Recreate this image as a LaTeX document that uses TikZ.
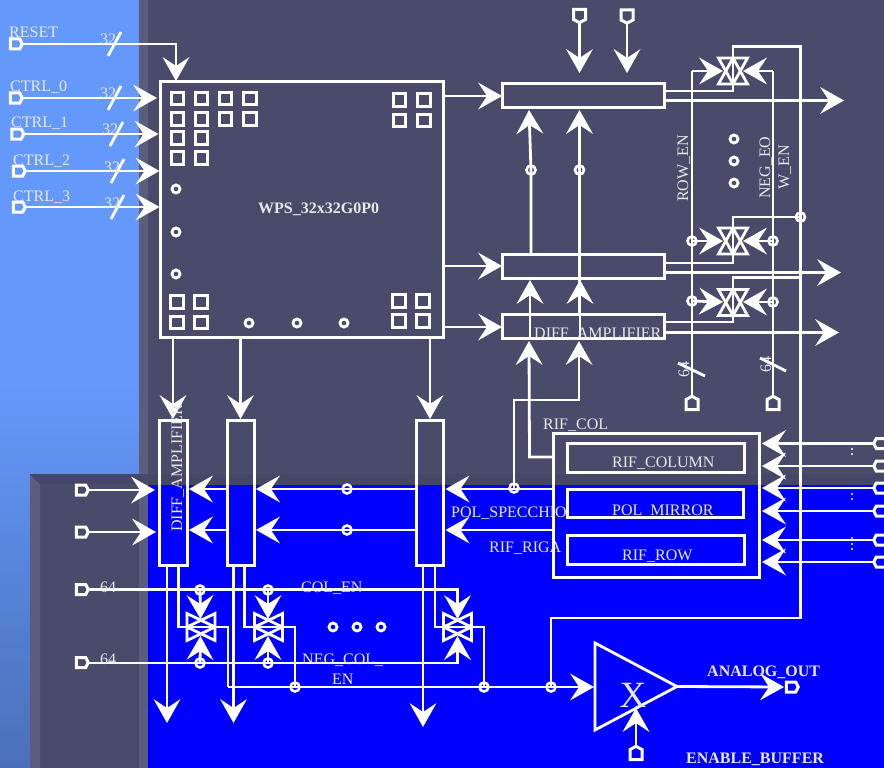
\documentclass[tikz,border=0pt]{standalone}
\usepackage{fontspec}
\setmainfont{Liberation Serif}
\usetikzlibrary{arrows.meta,shapes.symbols,shapes.geometric}
\definecolor{panel}{HTML}{4A4A6A}
\definecolor{bevel}{HTML}{5C5C7C}
\definecolor{bevelTop}{HTML}{464666}
\definecolor{lblue}{HTML}{6498FB}
\definecolor{mblue}{HTML}{5A8AE4}
\definecolor{dblue}{HTML}{4A70B8}
\definecolor{lbl}{HTML}{E8E8E8}
\tikzset{
  wire/.style={draw=white,line width=2.8pt,line join=miter},
  arr/.style={wire,-{Stealth[length=24pt,width=27pt,inset=9pt,line width=0pt,fill=white]}},
  boxn/.style={draw=white,line width=3pt,rectangle,inner sep=0pt,outer sep=0pt},
  sq/.style={draw=white,line width=3pt,rectangle,minimum size=12.5pt,inner sep=0pt},
  ring/.style={draw=white,line width=2.8pt,circle,minimum size=8pt,inner sep=0pt},
  jn/.style={draw=white,line width=2.6pt,circle,minimum size=9pt,inner sep=0pt},
  pinn/.style={draw=white,line width=3pt,signal,signal pointer angle=125,signal from=nowhere,
     minimum width=12pt,minimum height=10pt,inner sep=0pt,outer sep=0pt},
  txt/.style={text=lbl,inner sep=0pt,anchor=base west,font=\fontsize{16}{16}\selectfont},
  btxt/.style={txt,font=\fontsize{16}{16}\selectfont\bfseries},
  slash/.style={wire},
  sw/.style={draw=white,line width=2.8pt,line join=miter},
}
\newcommand{\switchH}[3]{% Star of David: triangles up and down
  \draw[sw] (#2-14.5,#3-13) -- (#2+14.5,#3-13) -- (#2,#3+13) -- cycle;
  \draw[sw] (#2-14.5,#3+13) -- (#2+14.5,#3+13) -- (#2,#3-13) -- cycle;
  \coordinate (#1) at (#2,#3);}
\newcommand{\switchV}[3]{% triangles pointing left and right
  \draw[sw] (#2-14,#3-13.5) -- (#2-14,#3+13.5) -- (#2+14,#3) -- cycle;
  \draw[sw] (#2+14,#3-13.5) -- (#2+14,#3+13.5) -- (#2-14,#3) -- cycle;
  \coordinate (#1) at (#2,#3);}
\begin{document}
\begin{tikzpicture}[x=1pt,y=-1pt]
\useasboundingbox (0,0) rectangle (884,768);
% ---- background
\shade[top color=lblue,bottom color=dblue,middle color=lblue] (0,0) rectangle (140,768);
\fill[panel] (139,0) rectangle (884,485);
\fill[bevel] (139,0) rectangle (148,485);
\fill[panel] (30,474) rectangle (148,768);
\fill[bevel] (30,474) -- (40,484) -- (40,768) -- (30,768) -- cycle;
\fill[bevelTop] (30,474) -- (139,474) -- (148,484) -- (40,484) -- cycle;
\fill[bevelTop] (148,474) rectangle (884,485);
\fill[bevel] (139,484) rectangle (148,768);
\fill[blue] (148,485) rectangle (884,768);

% ---- main boxes
\node[boxn,minimum width=283.3pt,minimum height=255.6pt] (wps) at (301.7,209.5) {};
\node[boxn,minimum width=161.5pt,minimum height=24.5pt] (boxA) at (583.7,95.5) {};
\node[boxn,minimum width=161.5pt,minimum height=24pt] (boxB) at (583.7,266) {};
\node[boxn,minimum width=161.5pt,minimum height=24.5pt] (boxC) at (583.7,326.5) {};
\node[boxn,minimum width=28pt,minimum height=145.5pt] (col1) at (173.7,493) {};
\node[boxn,minimum width=27.5pt,minimum height=145.5pt] (col2) at (241,493) {};
\node[boxn,minimum width=27.5pt,minimum height=145.5pt] (col3) at (430,493) {};
\node[boxn,minimum width=206.5pt,minimum height=144.5pt] (rif) at (656.3,505.5) {};
\node[boxn,minimum width=177.5pt,minimum height=29.5pt] (rifc) at (655.8,458) {};
\node[boxn,minimum width=176.5pt,minimum height=28.5pt] (rifm) at (655.3,503.5) {};
\node[boxn,minimum width=177.5pt,minimum height=29.5pt] (rifr) at (655.8,550) {};

% ---- small squares in the array
\foreach \n/\x/\y in {a/177.5/98.5,b/201.5/98.5,c/225.5/98.5,d/250/98.5,
  e/177.5/119,f/201.5/119,g/225.5/119,h/250/119,
  i/177.5/138,j/201.5/138,k/177.5/158,l/201.5/158,
  m/399.5/100,n/424/100,o/399.5/120.5,p/424/120.5,
  q/177/302,r/201/302,s/177/322.5,t/201/322.5,
  u/399/301,v/423/301,w/399/321,x/423/321}
  \node[sq] (sq\n) at (\x,\y) {};
\foreach \n/\x/\y in {a/176/189,b/176/232,c/176/274,d/249/323,e/297/323,f/344/323,
  g/734/139,h/734/161,i/734/183,j/333/627,k/357/627,l/381/627}
  \node[ring] (dot\n) at (\x,\y) {};

% ---- switches
\switchH{swA}{733}{71}
\switchH{swB}{733}{241}
\switchH{swC}{733}{302.5}
\switchV{swD}{201}{627}
\switchV{swE}{268.5}{627}
\switchV{swF}{457.5}{627}

% ---- pins
\node[pinn,signal to=east] (pReset) at (15,44) {};
\node[pinn,signal to=east] (pC0) at (15,98) {};
\node[pinn,signal to=east] (pC1) at (16.5,134) {};
\node[pinn,signal to=east] (pC2) at (18,171) {};
\node[pinn,signal to=east] (pC3) at (18,207) {};
\node[pinn,signal to=south] (pT1) at (579.5,14.5) {};
\node[pinn,signal to=south] (pT2) at (627,15) {};
\node[pinn,signal to=north] (pB1) at (692,404.5) {};
\node[pinn,signal to=north] (pB2) at (773,404.5) {};
\node[pinn,signal to=east] (pL1) at (81,490) {};
\node[pinn,signal to=east] (pL2) at (81,532) {};
\node[pinn,signal to=east] (pL3) at (81,589.5) {};
\node[pinn,signal to=east] (pL4) at (81,662.5) {};
\foreach \n/\y in {1/443.5,2/466,3/488,4/511,5/540,6/562}
  \node[pinn,signal to=west] (pR\n) at (881,\y) {};
\node[pinn,signal to=east] (pOut) at (791,687) {};
\node[pinn,signal to=north] (pEn) at (636,754.5) {};

% ---- amplifier
\node[draw=white,line width=2.8pt,isosceles triangle,isosceles triangle stretches,
  shape border rotate=0,minimum width=87pt,minimum height=82pt,
  inner sep=0pt,outer sep=0pt,anchor=lower side] (amp) at (595,686.5) {};

% ---- junctions
\foreach \n/\x/\y in {j1/531/170,j2/579.5/170,j3/514/488,j4/347/489,j5/347/530,
  j6/692/241,j7/773/241,j8/692/301,j9/773/302,j10/800.5/217,
  j11/200/590,j12/268/590,j13/200/663,j14/268/663,
  j15/295/687,j16/484/687,j17/551/687}
  \node[jn] (\n) at (\x,\y) {};

% ---- free ends (arrow tips and corners)
\foreach \n/\x/\y in {tR/176/81,t0/157/98,t1/158.5/134,t2/159.5/171,t3/159.5/207,
  tA1/502/96,tB1/502/266,tC1/502/327,
  tAu1/529/110,tAu2/579.5/110,tBu1/530/280,tBu2/580/280,tCu1/529/341,tCu2/579/341,
  tT1/579.5/73,tT2/627/73,
  tAo/844/100.5,tBo/841/272.5,tCo/839/332.5,
  tCol1/173/419,tCol2/240.5/419,tCol3/430/419,
  tg3a/445.5/489,tg3b/445.5/530,tg2a/256/489,tg2b/256/530,tg1a/189/489,tg1b/189/530,
  tL1/155/490,tL2/156/532,
  tD1/167/723,tD2/233.5/723,tD3/423/727,
  tAmp/594/687,tOut/784/687,
  tSwAl/723/71,tSwAr/743/71,tSwBl/723/241,tSwBr/743/241,tSwCl/723/302,tSwCr/743/302,
  tSwDu/200.5/619,tSwEu/268/619,tSwFu/457.5/619,tSwDd/200.5/636,tSwEd/268/636,tSwFd/457.5/636}
  \coordinate (\n) at (\x,\y);
\coordinate (tEnTip) at (636,708);

% ---- inputs to the array
\draw[arr] (pReset.east) -| (tR);
\draw[arr] (pC0.east) -- (t0);
\draw[arr] (pC1.east) -- (t1);
\draw[arr] (pC2.east) -- (t2);
\draw[arr] (pC3.east) -- (t3);
\draw[slash] (108,56) -- (121,32);
\draw[slash] (108,110) -- (121,86);
\draw[slash] (110,146) -- (123,122);
\draw[slash] (111,183) -- (124,159);
\draw[slash] (111,219) -- (124,195);

% ---- array to boxes
\draw[arr] (wps.east |- tA1) -- (tA1);
\draw[arr] (wps.east |- tB1) -- (tB1);
\draw[arr] (wps.east |- tC1) -- (tC1);
\draw[arr] (pT1.south) -- (tT1);
\draw[arr] (pT2.south) -- (tT2);
\draw[arr] (boxB.north -| j1) -- (j1.center) -- (tAu1);
\draw[arr] (boxC.north -| j2) -- (j2.center) -- (tAu2);
\draw[arr] (boxC.south -| tBu1) -- (tBu1);
\draw[arr] (boxC.south -| tBu2) -- (tBu2);
\coordinate (c1) at (529.5,457);
\draw[arr] (rif.west |- c1) -- (c1) -- (tCu1);
\coordinate (c2) at (514,400);
\coordinate (c3) at (579,400);
\draw[arr] (j3.center) -- (c2) -- (c3) -- (tCu2);

% ---- box outputs and switches
\coordinate (a1) at (733,91);
\coordinate (a2) at (733,46.5);
\coordinate (a3) at (800.5,46.5);
\coordinate (a4) at (800.5,618);
\coordinate (a5) at (551,618);
\draw[wire] (boxA.east |- a1) -- (a1) -- (a2) -- (a3) -- (a4) -- (a5) -- (j17.center);
\draw[arr] (boxA.east |- tAo) -- (tAo);
\coordinate (b1) at (733,263);
\coordinate (b2) at (733,217);
\draw[wire] (boxB.east |- b1) -- (b1) -- (b2) -- (j10.center);
\draw[arr] (boxB.east |- tBo) -- (tBo);
\coordinate (d1) at (733,322);
\coordinate (d2) at (733,277.5);
\coordinate (d3) at (800.5,277.5);
\draw[wire] (boxC.east |- d1) -- (d1) -- (d2) -- (d3);
\draw[arr] (boxC.east |- tCo) -- (tCo);
\coordinate (e1) at (692,71);
\coordinate (e2) at (773,71);
\draw[wire] (pB1.north) -- (e1);
\draw[wire] (pB2.north) -- (e2);
\draw[arr] (e1) -- (tSwAl);
\draw[arr] (e2) -- (tSwAr);
\draw[arr] (j6.center) -- (tSwBl);
\draw[arr] (j7.center) -- (tSwBr);
\draw[arr] (j8.center) -- (tSwCl);
\draw[arr] (j9.center) -- (tSwCr);
\draw[slash] (678,363) -- (705,376);
\draw[slash] (760,358) -- (786,371);

% ---- array to columns
\draw[arr] (wps.south -| tCol1) -- (tCol1);
\draw[arr] (wps.south -| tCol2) -- (tCol2);
\draw[arr] (wps.south -| tCol3) -- (tCol3);

% ---- rif to columns
\draw[arr] (rif.west |- tg3a) -- (tg3a);
\draw[arr] (rif.west |- tg3b) -- (tg3b);
\draw[arr] (col3.west |- tg2a) -- (tg2a);
\draw[arr] (col3.west |- tg2b) -- (tg2b);
\draw[arr] (col2.west |- tg1a) -- (tg1a);
\draw[arr] (col2.west |- tg1b) -- (tg1b);
\draw[arr] (pL1.east) -- (tL1);
\draw[arr] (pL2.east) -- (tL2);
\foreach \n in {1,...,6}
  \draw[arr] (pR\n.west) -- (762,0 |- pR\n.center);

% ---- column outputs
\draw[arr] (col1.south -| tD1) -- (tD1);
\draw[arr] (col2.south -| tD2) -- (tD2);
\draw[arr] (col3.south -| tD3) -- (tD3);
\coordinate (f1) at (178.5,566);
\coordinate (f2) at (178.5,627);
\coordinate (f3) at (228,627);
\coordinate (f4) at (228,687);
\draw[wire] (f1) -- (f2) -- (f3) -- (f4);
\coordinate (g1) at (244.5,566);
\coordinate (g2) at (244.5,627);
\coordinate (g3) at (295,627);
\draw[wire] (g1) -- (g2) -- (g3) -- (j15.center);
\coordinate (h1) at (435,566);
\coordinate (h2) at (435,627);
\coordinate (h3) at (484,627);
\draw[wire] (h1) -- (h2) -- (h3) -- (j16.center);
\draw[arr] (f4) -- (tAmp);
\draw[arr] (amp.apex) -- (tOut);
\draw[arr] (pEn.north) -- (tEnTip);

% ---- enable lines
\coordinate (k1) at (457.5,589.5);
\coordinate (k2) at (457.5,663);
\draw[arr] (pL3.east |- k1) -- (k1) -- (tSwFu);
\draw[arr] (pL4.east |- k2) -- (k2) -- (tSwFd);
\draw[arr] (j11.center) -- (tSwDu);
\draw[arr] (j12.center) -- (tSwEu);
\draw[arr] (j13.center) -- (tSwDd);
\draw[arr] (j14.center) -- (tSwEd);

% ---- vertical dots at the right
\foreach \y in {443,449,454,488,494,499,538,544,549}
  \fill[white] (852,\y) circle (1.1pt);

% ---- labels
\node[txt] (lReset) at (9,38) {RESET};
\node[txt] (lC0) at (10,92) {CTRL\_0};
\node[txt] (lC1) at (11,128) {CTRL\_1};
\node[txt] (lC2) at (13,165) {CTRL\_2};
\node[txt] (lC3) at (13,201) {CTRL\_3};
\node[txt] (n1) at (100,45) {32};
\node[txt] (n2) at (100,99) {32};
\node[txt] (n3) at (102,135) {32};
\node[txt] (n4) at (104,172) {32};
\node[txt] (n5) at (104,208) {32};
\node[btxt] (lWps) at (258,213) {WPS\_32x32G0P0};
\node[txt] (lDiffH) at (534,338) {DIFF\_AMPLIFIER};
\node[txt,rotate=90] (lRow) at (688,202) {ROW\_EN};
\node[txt,rotate=90] (lNeg) at (770,199) {NEG\_EO};
\node[txt,rotate=90] (lW) at (789,190) {W\_EN};
\node[txt,rotate=90] (n6) at (689,378) {64};
\node[txt,rotate=90] (n7) at (771,373) {64};
\node[txt] (lRc) at (543,429) {RIF\_COL};
\node[txt] (lRcol) at (612,467) {RIF\_COLUMN};
\node[txt] (lPm) at (612,515) {POL\_MIRROR};
\node[txt] (lRr) at (622,560) {RIF\_ROW};
\node[txt] (lPs) at (451,517) {POL\_SPECCHIO};
\node[txt] (lRg) at (489,552) {RIF\_RIGA};
\node[txt,rotate=90] (lDiffV) at (182,532) {DIFF\_AMPLIFIER};
\node[txt] (n8) at (100,592) {64};
\node[txt] (n9) at (100,664) {64};
\node[txt] (lCe) at (301,592) {COL\_EN};
\node[txt] (lNc) at (302,664) {NEG\_COL\_};
\node[txt] (lEn) at (332,684) {EN};
\node[btxt] (lOut) at (707,676) {ANALOG\_OUT};
\node[btxt] (lEb) at (686,763) {ENABLE\_BUFFER};
\node[txt,font=\fontsize{37}{37}\selectfont] (lX) at (619.5,707) {X};
\end{tikzpicture}
\end{document}
